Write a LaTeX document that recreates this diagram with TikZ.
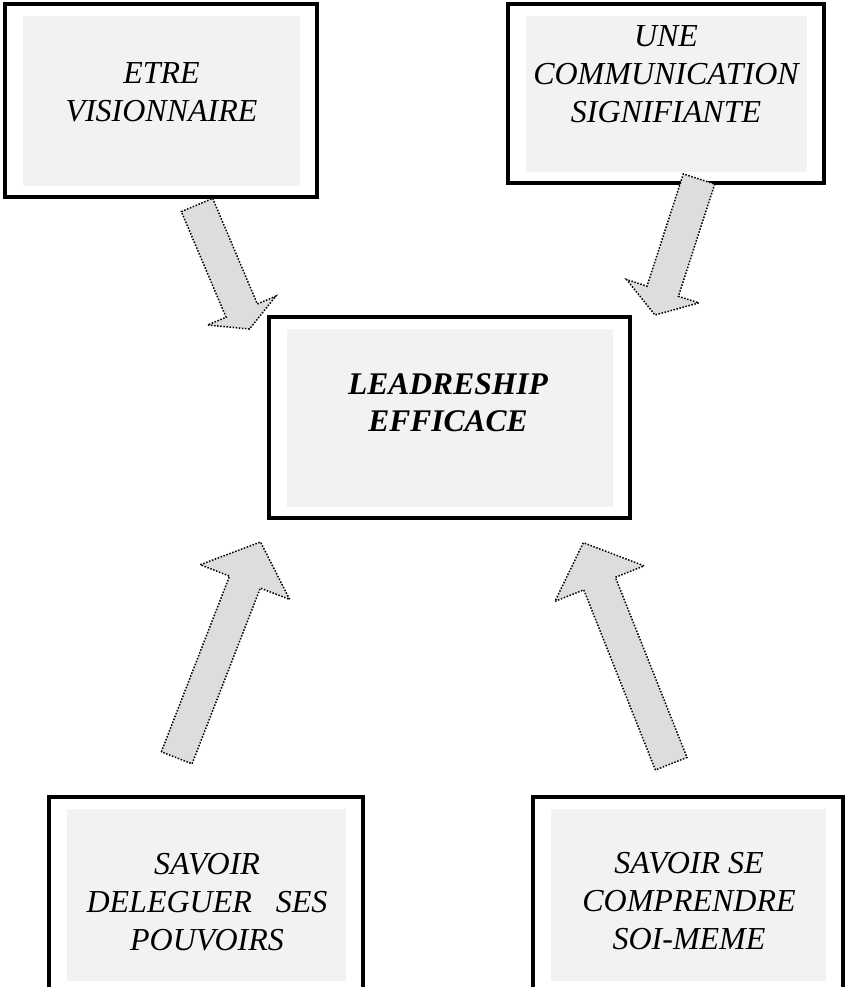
\documentclass[tikz,border=0pt]{standalone}
\usepackage{fontspec}
\setmainfont{Liberation Serif}
\usepackage{xcolor}
\usepackage{tikz}
\usetikzlibrary{positioning,calc}

\definecolor{panelgray}{HTML}{F2F2F2}
\definecolor{arrowgray}{HTML}{DDDDDD}

% block arrow: tail, tip, half shaft, half head, head length
\newcommand{\blockarrow}[5]{%
  \coordinate (#2-neck) at ($(#2)!#5!(#1)$);
  \draw[dotarrow] ($(#1)!#3!90:(#2)$) -- ($(#2-neck)!#3!90:(#2)$)
    -- ($(#2-neck)!#4!90:(#2)$) -- (#2) -- ($(#2-neck)!#4!-90:(#2)$)
    -- ($(#2-neck)!#3!-90:(#2)$) -- ($(#1)!#3!-90:(#2)$) -- cycle;}

\begin{document}
\begin{tikzpicture}[
            x=1pt, y=-1pt,
            frame/.style={rectangle, draw=black, line width=3.6pt, fill=white, inner sep=0pt,
                path picture={\fill[panelgray]
                    ([xshift=18pt,yshift=-12pt]path picture bounding box.north west) rectangle
                    ([xshift=-17pt,yshift=11pt]path picture bounding box.south east);}},
            boxtext/.style={align=center, inner sep=0pt, font=\itshape\fontsize{32}{38}\selectfont},
            dotarrow/.style={draw=black, fill=arrowgray, line width=1.5pt, dash pattern=on 1.5pt off 1.6pt}
        ]
            \clip (0,0) rectangle (845,987);
            \useasboundingbox (0,0) rectangle (845,987);
            % Boxes
            \node[frame, minimum width=312pt, minimum height=193pt] (vis) at (161,100.5) {};
            \node[frame, minimum width=316pt, minimum height=179pt] (com) at (666,93.5) {};
            \node[frame, minimum width=361pt, minimum height=201pt] (lead) at (449.5,417.5) {};
            \node[frame, minimum width=314pt, minimum height=195pt] (del) at (206,894.5) {};
            \node[frame, minimum width=310pt, minimum height=195pt] (comp) at (688,894.5) {};
            % Texts
            \node[boxtext] (vis-txt) at (161.5,92) {ETRE\\VISIONNAIRE};
            \node[boxtext] (com-txt) at (666,74.5) {UNE\\COMMUNICATION\\SIGNIFIANTE};
            \node[boxtext, font=\bfseries\itshape\fontsize{31.5}{37}\selectfont] (lead-txt) at (448,403) {LEADRESHIP\\EFFICACE};
            \node[boxtext] (del-txt) at (207,902) {SAVOIR\\DELEGUER\hspace{0.5em} SES\\POUVOIRS};
            \node[boxtext] (comp-txt) at (689,901.5) {SAVOIR SE\\COMPRENDRE\\SOI-MEME};
            % Arrows
            \coordinate (vis-tail) at (197,205);
            \coordinate (vis-tip) at (249.5,329);
            \coordinate (com-tail) at (699,179);
            \coordinate (com-tip) at (655,315);
            \coordinate (del-tail) at (176.7,757.8);
            \coordinate (del-tip) at (260.5,542);
            \coordinate (comp-tail) at (671.2,763.7);
            \coordinate (comp-tip) at (583.3,542.7);
            \blockarrow{vis-tail}{vis-tip}{17pt}{37pt}{20pt}   % vis -> lead
            \blockarrow{com-tail}{com-tip}{16.5pt}{38pt}{25pt} % com -> lead
            \blockarrow{del-tail}{del-tip}{16.5pt}{48pt}{43pt} % del -> lead
            \blockarrow{comp-tail}{comp-tip}{17pt}{48pt}{44pt} % comp -> lead
        \end{tikzpicture}
\end{document}
